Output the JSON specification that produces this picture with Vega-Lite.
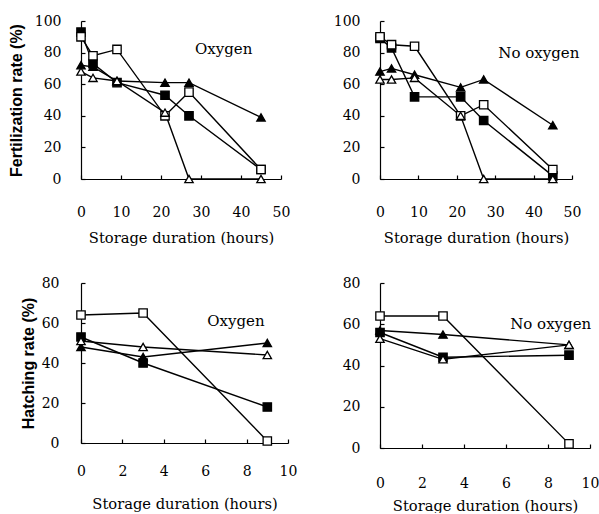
{
  "$schema": "https://vega.github.io/schema/vega-lite/v6.json",
  "padding": {"left": 8, "top": 14, "right": 0, "bottom": 0},
  "background": "white",
  "config": {
    "view": {"stroke": null},
    "axis": {
      "grid": false, "domainColor": "black", "tickColor": "black", "labelColor": "black", "titleColor": "black",
      "labelFont": "DejaVu Serif", "labelFontSize": 14, "titleFont": "DejaVu Serif", "titleFontSize": 14.7,
      "titleFontWeight": "normal", "tickSize": -4, "domainWidth": 1.2, "tickWidth": 1.2,
      "labelOverlap": false, "labelFlush": false, "labelBound": false, "tickCount": 20, "format": "d"
    },
    "concat": {"spacing": 31}
  },
  "datasets": {
    "main": [
      {"panel": "FO", "series": "fsq", "hours": 0, "rate": 93},
      {"panel": "FO", "series": "fsq", "hours": 3, "rate": 73},
      {"panel": "FO", "series": "fsq", "hours": 9, "rate": 61},
      {"panel": "FO", "series": "fsq", "hours": 21, "rate": 53},
      {"panel": "FO", "series": "fsq", "hours": 27, "rate": 40},
      {"panel": "FO", "series": "fsq", "hours": 45, "rate": 6},
      {"panel": "FO", "series": "osq", "hours": 0, "rate": 90},
      {"panel": "FO", "series": "osq", "hours": 3, "rate": 78},
      {"panel": "FO", "series": "osq", "hours": 9, "rate": 82},
      {"panel": "FO", "series": "osq", "hours": 21, "rate": 40},
      {"panel": "FO", "series": "osq", "hours": 27, "rate": 55},
      {"panel": "FO", "series": "osq", "hours": 45, "rate": 6},
      {"panel": "FO", "series": "ftri", "hours": 0, "rate": 72},
      {"panel": "FO", "series": "ftri", "hours": 3, "rate": 71},
      {"panel": "FO", "series": "ftri", "hours": 9, "rate": 62},
      {"panel": "FO", "series": "ftri", "hours": 21, "rate": 61},
      {"panel": "FO", "series": "ftri", "hours": 27, "rate": 61},
      {"panel": "FO", "series": "ftri", "hours": 45, "rate": 39},
      {"panel": "FO", "series": "otri", "hours": 0, "rate": 68},
      {"panel": "FO", "series": "otri", "hours": 3, "rate": 64},
      {"panel": "FO", "series": "otri", "hours": 9, "rate": 62},
      {"panel": "FO", "series": "otri", "hours": 21, "rate": 42},
      {"panel": "FO", "series": "otri", "hours": 27, "rate": 0},
      {"panel": "FO", "series": "otri", "hours": 45, "rate": 0},
      {"panel": "FN", "series": "fsq", "hours": 0, "rate": 89},
      {"panel": "FN", "series": "fsq", "hours": 3, "rate": 83},
      {"panel": "FN", "series": "fsq", "hours": 9, "rate": 52},
      {"panel": "FN", "series": "fsq", "hours": 21, "rate": 52},
      {"panel": "FN", "series": "fsq", "hours": 27, "rate": 37},
      {"panel": "FN", "series": "fsq", "hours": 45, "rate": 2},
      {"panel": "FN", "series": "osq", "hours": 0, "rate": 90},
      {"panel": "FN", "series": "osq", "hours": 3, "rate": 85},
      {"panel": "FN", "series": "osq", "hours": 9, "rate": 84},
      {"panel": "FN", "series": "osq", "hours": 21, "rate": 40},
      {"panel": "FN", "series": "osq", "hours": 27, "rate": 47},
      {"panel": "FN", "series": "osq", "hours": 45, "rate": 6},
      {"panel": "FN", "series": "ftri", "hours": 0, "rate": 68},
      {"panel": "FN", "series": "ftri", "hours": 3, "rate": 70},
      {"panel": "FN", "series": "ftri", "hours": 9, "rate": 66},
      {"panel": "FN", "series": "ftri", "hours": 21, "rate": 58},
      {"panel": "FN", "series": "ftri", "hours": 27, "rate": 63},
      {"panel": "FN", "series": "ftri", "hours": 45, "rate": 34},
      {"panel": "FN", "series": "otri", "hours": 0, "rate": 63},
      {"panel": "FN", "series": "otri", "hours": 3, "rate": 63},
      {"panel": "FN", "series": "otri", "hours": 9, "rate": 64},
      {"panel": "FN", "series": "otri", "hours": 21, "rate": 40},
      {"panel": "FN", "series": "otri", "hours": 27, "rate": 0},
      {"panel": "FN", "series": "otri", "hours": 45, "rate": 0},
      {"panel": "HO", "series": "fsq", "hours": 0, "rate": 53},
      {"panel": "HO", "series": "fsq", "hours": 3, "rate": 40},
      {"panel": "HO", "series": "fsq", "hours": 9, "rate": 18},
      {"panel": "HO", "series": "osq", "hours": 0, "rate": 64},
      {"panel": "HO", "series": "osq", "hours": 3, "rate": 65},
      {"panel": "HO", "series": "osq", "hours": 9, "rate": 1},
      {"panel": "HO", "series": "ftri", "hours": 0, "rate": 48},
      {"panel": "HO", "series": "ftri", "hours": 3, "rate": 43},
      {"panel": "HO", "series": "ftri", "hours": 9, "rate": 50},
      {"panel": "HO", "series": "otri", "hours": 0, "rate": 51},
      {"panel": "HO", "series": "otri", "hours": 3, "rate": 48},
      {"panel": "HO", "series": "otri", "hours": 9, "rate": 44},
      {"panel": "HN", "series": "fsq", "hours": 0, "rate": 56},
      {"panel": "HN", "series": "fsq", "hours": 3, "rate": 44},
      {"panel": "HN", "series": "fsq", "hours": 9, "rate": 45},
      {"panel": "HN", "series": "osq", "hours": 0, "rate": 64},
      {"panel": "HN", "series": "osq", "hours": 3, "rate": 64},
      {"panel": "HN", "series": "osq", "hours": 9, "rate": 2},
      {"panel": "HN", "series": "ftri", "hours": 0, "rate": 57},
      {"panel": "HN", "series": "ftri", "hours": 3, "rate": 55},
      {"panel": "HN", "series": "ftri", "hours": 9, "rate": 50},
      {"panel": "HN", "series": "otri", "hours": 0, "rate": 53},
      {"panel": "HN", "series": "otri", "hours": 3, "rate": 43},
      {"panel": "HN", "series": "otri", "hours": 9, "rate": 50}
    ],
    "labels": [
      {"panel": "FO", "hours": 28.5, "rate": 82, "text": "Oxygen"},
      {"panel": "FN", "hours": 30.8, "rate": 80, "text": "No oxygen"},
      {"panel": "HO", "hours": 6.1, "rate": 61, "text": "Oxygen"},
      {"panel": "HN", "hours": 6.2, "rate": 60, "text": "No oxygen"}
    ]
  },
  "vconcat": [
    {
      "spacing": 43,
      "hconcat": [
        {
          "width": 200, "height": 158,
          "layer": [
            {"data": {"name": "main"}, "transform": [{"filter": "datum.panel == 'FO'"}],
             "mark": {"type": "line", "color": "black", "strokeWidth": 1.4},
             "encoding": {
               "x": {"field": "hours", "type": "quantitative", "scale": {"domain": [0, 50]}, "axis": {"values": [0,10,20,30,40,50], "tickCount": 20, "format": "d", "labelOverlap": false, "title": "Storage duration (hours)", "labelPadding": 30, "titlePadding": 11}},
               "y": {"field": "rate", "type": "quantitative", "scale": {"domain": [0, 100]}, "axis": {"values": [0,20,40,60,80,100], "tickCount": 20, "format": "d", "labelOverlap": false, "title": "Fertilization rate (%)", "titleFont": "Liberation Sans", "titleFontWeight": "bold", "titleFontSize": 16, "labelPadding": 24, "titlePadding": 10}},
               "detail": {"field": "series"}
             }},
            {"data": {"name": "main"}, "transform": [{"filter": "datum.panel == 'FO'"}],
             "mark": {"type": "point", "filled": true, "stroke": "black", "strokeWidth": 1.3, "size": 70, "opacity": 1},
             "encoding": {
               "x": {"field": "hours", "type": "quantitative"},
               "y": {"field": "rate", "type": "quantitative"},
               "shape": {"field": "series", "type": "nominal", "scale": {"domain": ["fsq","osq","ftri","otri"], "range": ["square","square","triangle-up","triangle-up"]}, "legend": null},
               "fill": {"field": "series", "type": "nominal", "scale": {"domain": ["fsq","osq","ftri","otri"], "range": ["black","white","black","white"]}, "legend": null}
             }},
            {"data": {"name": "labels"}, "transform": [{"filter": "datum.panel == 'FO'"}],
             "mark": {"type": "text", "align": "left", "baseline": "middle", "font": "DejaVu Serif", "fontSize": 15, "color": "black"},
             "encoding": {"x": {"field": "hours", "type": "quantitative"}, "y": {"field": "rate", "type": "quantitative"}, "text": {"field": "text"}}}
          ]
        },
        {
          "width": 192, "height": 158,
          "layer": [
            {"data": {"name": "main"}, "transform": [{"filter": "datum.panel == 'FN'"}],
             "mark": {"type": "line", "color": "black", "strokeWidth": 1.4},
             "encoding": {
               "x": {"field": "hours", "type": "quantitative", "scale": {"domain": [0, 50]}, "axis": {"values": [0,10,20,30,40,50], "tickCount": 20, "format": "d", "labelOverlap": false, "title": "Storage duration (hours)", "labelPadding": 30, "titlePadding": 11}},
               "y": {"field": "rate", "type": "quantitative", "scale": {"domain": [0, 100]}, "axis": {"values": [0,20,40,60,80,100], "tickCount": 20, "format": "d", "labelOverlap": false, "title": null, "labelPadding": 24}},
               "detail": {"field": "series"}
             }},
            {"data": {"name": "main"}, "transform": [{"filter": "datum.panel == 'FN'"}],
             "mark": {"type": "point", "filled": true, "stroke": "black", "strokeWidth": 1.3, "size": 70, "opacity": 1},
             "encoding": {
               "x": {"field": "hours", "type": "quantitative"},
               "y": {"field": "rate", "type": "quantitative"},
               "shape": {"field": "series", "type": "nominal", "scale": {"domain": ["fsq","osq","ftri","otri"], "range": ["square","square","triangle-up","triangle-up"]}, "legend": null},
               "fill": {"field": "series", "type": "nominal", "scale": {"domain": ["fsq","osq","ftri","otri"], "range": ["black","white","black","white"]}, "legend": null}
             }},
            {"data": {"name": "labels"}, "transform": [{"filter": "datum.panel == 'FN'"}],
             "mark": {"type": "text", "align": "left", "baseline": "middle", "font": "DejaVu Serif", "fontSize": 15, "color": "black"},
             "encoding": {"x": {"field": "hours", "type": "quantitative"}, "y": {"field": "rate", "type": "quantitative"}, "text": {"field": "text"}}}
          ]
        }
      ]
    },
    {
      "spacing": 45,
      "hconcat": [
        {
          "width": 207, "height": 160,
          "layer": [
            {"data": {"name": "main"}, "transform": [{"filter": "datum.panel == 'HO'"}],
             "mark": {"type": "line", "color": "black", "strokeWidth": 1.4},
             "encoding": {
               "x": {"field": "hours", "type": "quantitative", "scale": {"domain": [0, 10]}, "axis": {"values": [0,2,4,6,8,10], "tickCount": 20, "format": "d", "labelOverlap": false, "title": "Storage duration (hours)", "labelPadding": 25, "titlePadding": 18}},
               "y": {"field": "rate", "type": "quantitative", "scale": {"domain": [0, 80]}, "axis": {"values": [0,20,40,60,80], "tickCount": 20, "format": "d", "labelOverlap": false, "title": "Hatching rate (%)", "titleFont": "Liberation Sans", "titleFontWeight": "bold", "titleFontSize": 16, "labelPadding": 26, "titlePadding": 5}},
               "detail": {"field": "series"}
             }},
            {"data": {"name": "main"}, "transform": [{"filter": "datum.panel == 'HO'"}],
             "mark": {"type": "point", "filled": true, "stroke": "black", "strokeWidth": 1.3, "size": 70, "opacity": 1},
             "encoding": {
               "x": {"field": "hours", "type": "quantitative"},
               "y": {"field": "rate", "type": "quantitative"},
               "shape": {"field": "series", "type": "nominal", "scale": {"domain": ["fsq","osq","ftri","otri"], "range": ["square","square","triangle-up","triangle-up"]}, "legend": null},
               "fill": {"field": "series", "type": "nominal", "scale": {"domain": ["fsq","osq","ftri","otri"], "range": ["black","white","black","white"]}, "legend": null}
             }},
            {"data": {"name": "labels"}, "transform": [{"filter": "datum.panel == 'HO'"}],
             "mark": {"type": "text", "align": "left", "baseline": "middle", "font": "DejaVu Serif", "fontSize": 15, "color": "black"},
             "encoding": {"x": {"field": "hours", "type": "quantitative"}, "y": {"field": "rate", "type": "quantitative"}, "text": {"field": "text"}}}
          ]
        },
        {
          "width": 210, "height": 165,
          "layer": [
            {"data": {"name": "main"}, "transform": [{"filter": "datum.panel == 'HN'"}],
             "mark": {"type": "line", "color": "black", "strokeWidth": 1.4},
             "encoding": {
               "x": {"field": "hours", "type": "quantitative", "scale": {"domain": [0, 10]}, "axis": {"values": [0,2,4,6,8,10], "tickCount": 20, "format": "d", "labelOverlap": false, "title": "Storage duration (hours)", "labelPadding": 32, "titlePadding": 8}},
               "y": {"field": "rate", "type": "quantitative", "scale": {"domain": [0, 80]}, "axis": {"values": [0,20,40,60,80], "tickCount": 20, "format": "d", "labelOverlap": false, "title": null, "labelPadding": 24}},
               "detail": {"field": "series"}
             }},
            {"data": {"name": "main"}, "transform": [{"filter": "datum.panel == 'HN'"}],
             "mark": {"type": "point", "filled": true, "stroke": "black", "strokeWidth": 1.3, "size": 70, "opacity": 1},
             "encoding": {
               "x": {"field": "hours", "type": "quantitative"},
               "y": {"field": "rate", "type": "quantitative"},
               "shape": {"field": "series", "type": "nominal", "scale": {"domain": ["fsq","osq","ftri","otri"], "range": ["square","square","triangle-up","triangle-up"]}, "legend": null},
               "fill": {"field": "series", "type": "nominal", "scale": {"domain": ["fsq","osq","ftri","otri"], "range": ["black","white","black","white"]}, "legend": null}
             }},
            {"data": {"name": "labels"}, "transform": [{"filter": "datum.panel == 'HN'"}],
             "mark": {"type": "text", "align": "left", "baseline": "middle", "font": "DejaVu Serif", "fontSize": 15, "color": "black"},
             "encoding": {"x": {"field": "hours", "type": "quantitative"}, "y": {"field": "rate", "type": "quantitative"}, "text": {"field": "text"}}}
          ]
        }
      ]
    }
  ]
}
